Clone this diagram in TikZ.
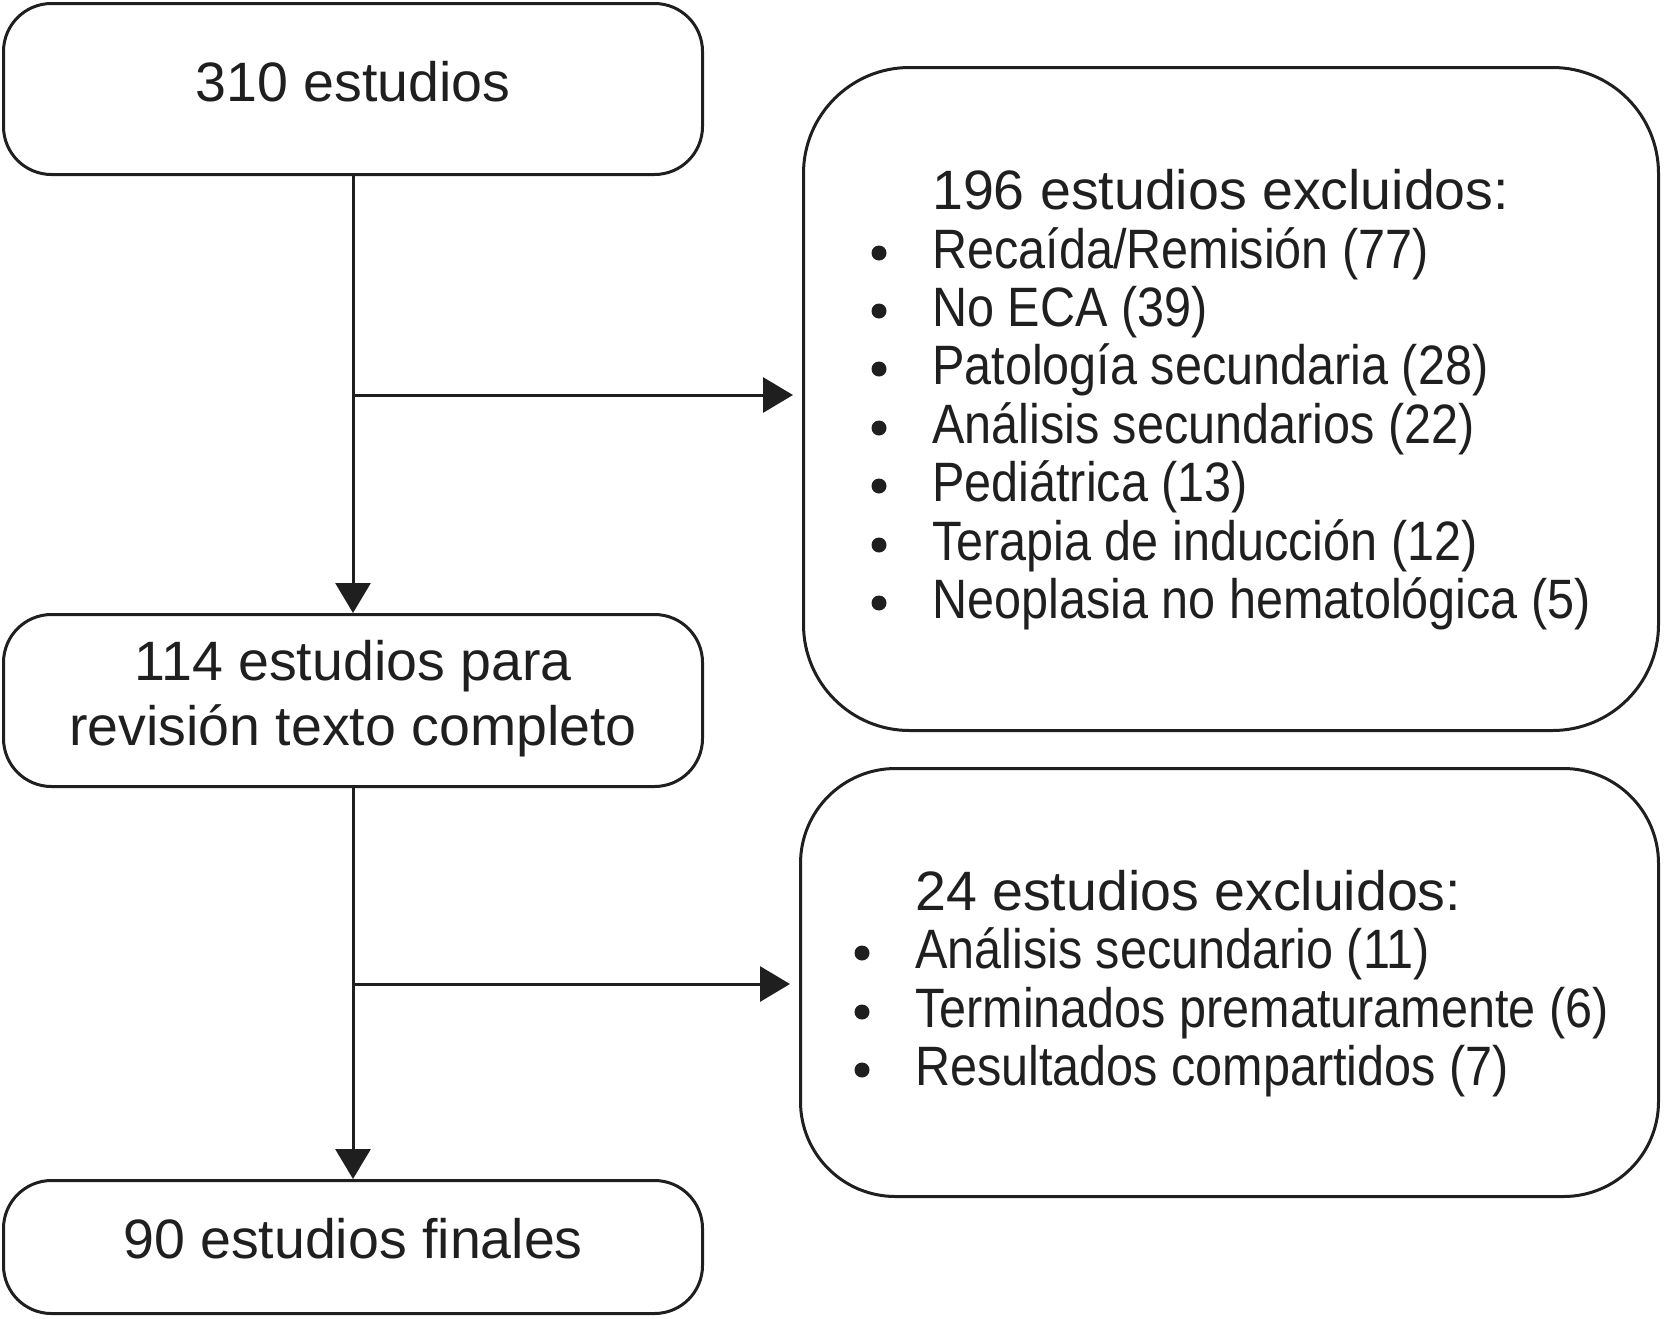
\documentclass[tikz,border=0pt]{standalone}
\usepackage{fontspec}
\setmainfont{Liberation Sans}
\newfontfamily\condfont{Liberation Sans}[FakeStretch=0.875]
\usetikzlibrary{arrows.meta}
\begin{document}
\begin{tikzpicture}[x=1pt,y=-1pt,
  box/.style={draw=black!88, line width=3pt, inner sep=0pt},
  conn/.style={line width=3pt, draw=black!88, -{Triangle[length=30pt,width=35pt]}},
  txt/.style={inner sep=0pt, text=black!88, font=\fontsize{55.5}{65}\selectfont},
  itm/.style={inner sep=0pt, text=black!88, font=\fontsize{55.5}{65}\condfont},
  bul/.style={circle, fill=black!88, inner sep=0pt, minimum size=15pt}]
\useasboundingbox (0,0) rectangle (1665,1318);
% boxes
\node[box, rounded corners=48pt, minimum width=699pt, minimum height=171pt] (b1) at (353,89) {};
\node[box, rounded corners=106pt, minimum width=855pt, minimum height=663pt] (b2) at (1231,399) {};
\node[box, rounded corners=48pt, minimum width=699pt, minimum height=172pt] (b3) at (353,700.5) {};
\node[box, rounded corners=95pt, minimum width=858pt, minimum height=428pt] (b4) at (1229.5,982.5) {};
\node[box, rounded corners=48pt, minimum width=699pt, minimum height=133pt] (b5) at (353,1247) {};
% connectors
\draw[conn] (b1.south) -- (b3.north);
\draw[conn] (b3.south) -- (b5.north);
\coordinate (j1) at (353,395);
\coordinate (j2) at (353,984);
\draw[conn, shorten >=9pt] (j1) -- (j1 -| b2.west);
\draw[conn, shorten >=9pt] (j2) -- (j2 -| b4.west);
% texts
\node[txt, anchor=base] (t1) at (353,101) {310 estudios};
\node[txt, anchor=base] (t3a) at (353,680) {114 estudios para};
\node[txt, anchor=base] (t3b) at (353,745) {revisión texto completo};
\node[txt, anchor=base] (t5) at (353,1258) {90 estudios finales};
% list 1
\node[txt, anchor=base west] (h2) at (932,209) {196 estudios excluidos:};
\foreach \y/\t [count=\i] in {268/{Recaída/Remisión (77)},326/{No ECA (39)},384/{Patología secundaria (28)},443/{Análisis secundarios (22)},501/{Pediátrica (13)},560/{Terapia de inducción (12)},618/{Neoplasia no hematológica (5)}}{
  \node[itm, anchor=base west] (l2\i) at (932,\y) {\t};
  \node[bul] (p2\i) at (879,\y-15) {};
}
% list 2
\node[txt, anchor=base west] (h4) at (915,910) {24 estudios excluidos:};
\foreach \y/\t [count=\i] in {968/{Análisis secundario (11)},1027/{Terminados prematuramente (6)},1085/{Resultados compartidos (7)}}{
  \node[itm, anchor=base west] (l4\i) at (915,\y) {\t};
  \node[bul] (p4\i) at (862,\y-15) {};
}
\end{tikzpicture}
\end{document}
